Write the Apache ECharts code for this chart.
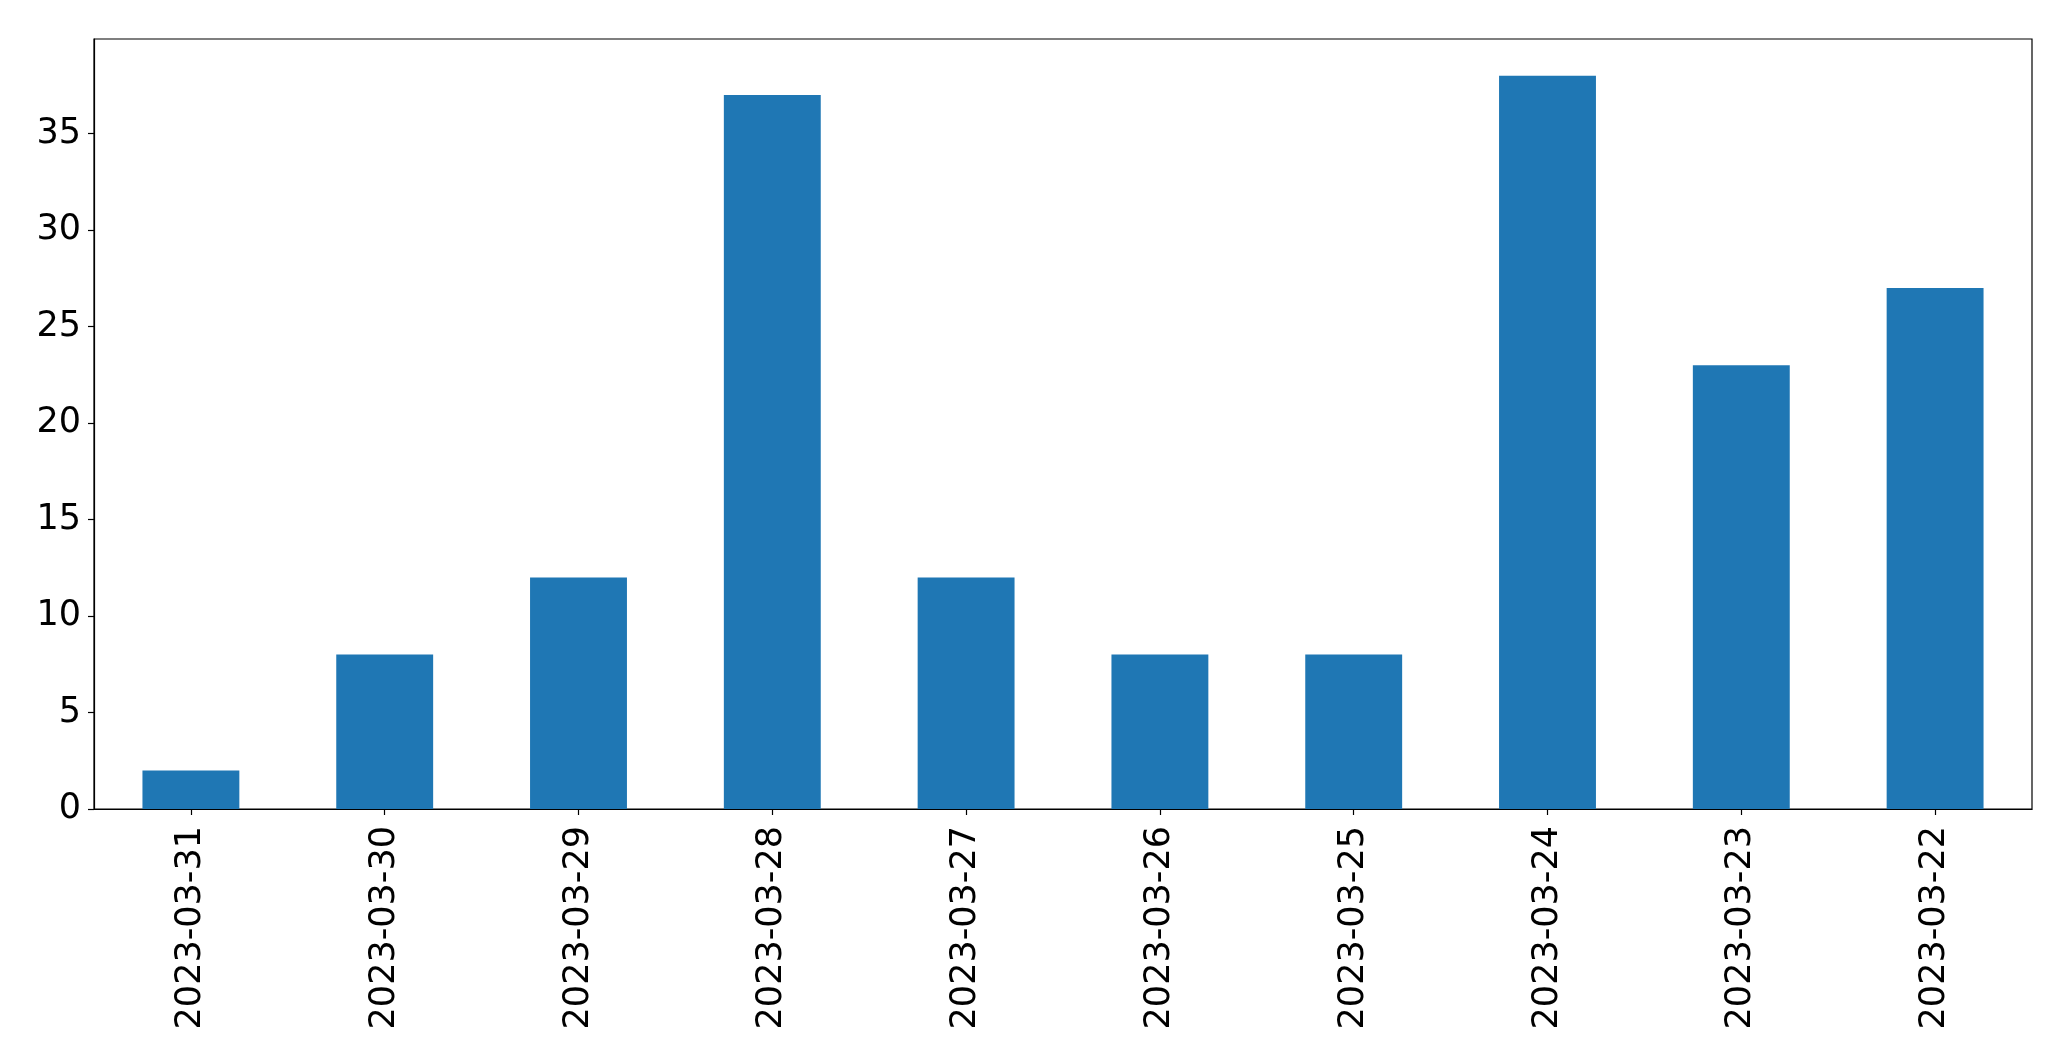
<!DOCTYPE html>
<html>
<head>
<meta charset="utf-8">
<script src="https://cdn.jsdelivr.net/npm/echarts@6/dist/echarts.min.js"></script>
<style>
html,body{margin:0;padding:0;background:#fff;}
#chart{width:2071px;height:1061px;}
</style>
</head>
<body>
<div id="chart"></div>
<script>
const categories = ['2023-03-31','2023-03-30','2023-03-29','2023-03-28','2023-03-27','2023-03-26','2023-03-25','2023-03-24','2023-03-23','2023-03-22'];
const values = [2, 8, 12, 37, 12, 8, 8, 38, 23, 27];
const yTicks = [0, 5, 10, 15, 20, 25, 30, 35];

const chart = echarts.init(document.getElementById('chart'), null, {renderer: 'canvas'});
const font = 'DejaVu Sans';
chart.setOption({
  animation: false,
  backgroundColor: '#ffffff',
  grid: {
    left: 94, right: 39, top: 39, bottom: 252,
    show: true, borderColor: '#000', borderWidth: 1.2, backgroundColor: 'transparent'
  },
  xAxis: {
    type: 'category',
    data: categories,
    axisLine: {show: true, lineStyle: {color: '#000', width: 1.2}},
    axisTick: {show: true, alignWithLabel: true, length: 6, lineStyle: {color: '#000', width: 1.2}},
    axisLabel: {rotate: 90, margin: 17, color: '#000', fontFamily: font, fontSize: 35, interval: 0},
    splitLine: {show: false}
  },
  yAxis: {
    type: 'value',
    min: 0,
    max: 39.9,
    interval: 5,
    axisLine: {show: true, lineStyle: {color: '#000', width: 1.2}},
    axisTick: {show: true, length: 6, lineStyle: {color: '#000', width: 1.2}},
    axisLabel: {
      margin: 13, color: '#000', fontFamily: font, fontSize: 35, showMaxLabel: false,
      formatter: function (v) { return yTicks.indexOf(v) >= 0 ? String(v) : ''; }
    },
    splitLine: {show: false}
  },
  series: [{
    type: 'bar',
    data: values,
    barWidth: '50%',
    itemStyle: {color: '#1f77b4'}
  }]
});
</script>
</body>
</html>
